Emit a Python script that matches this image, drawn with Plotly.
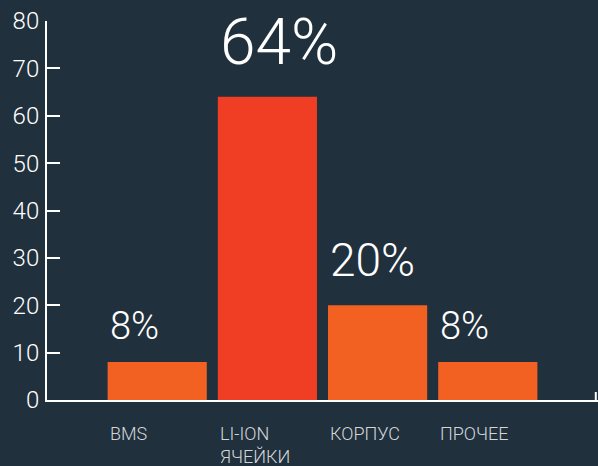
import plotly.graph_objects as go

categories = ["BMS", "LI-ION<br>ЯЧЕЙКИ", "КОРПУС", "ПРОЧЕЕ"]
values = [8, 64, 20, 8]
value_labels = ["8%", "64%", "20%", "8%"]
label_sizes = [38, 64, 46, 38]
label_shifts = [12, 15, 16, 12]
bar_colors = ["#f26122", "#ef3e23", "#f26122", "#f26122"]
y_ticks = [0, 10, 20, 30, 40, 50, 60, 70, 80]

BG = "#21303d"
FONT = "Roboto"
xs = list(range(len(categories)))

fig = go.Figure()
fig.add_trace(go.Bar(
    x=xs, y=values, width=0.9,
    marker=dict(color=bar_colors, line=dict(width=0)),
    hoverinfo="skip",
))

annotations = []
for i, (v, t, s, sh) in enumerate(zip(values, value_labels, label_sizes, label_shifts)):
    annotations.append(dict(
        x=i - 0.45, y=v, xref="x", yref="y", text=t, showarrow=False,
        xanchor="left", yanchor="bottom", yshift=sh,
        font=dict(family=FONT, size=s, color="#ffffff", weight=300),
    ))
    annotations.append(dict(
        x=i - 0.45, y=0, xref="x", yref="paper", text=categories[i], showarrow=False,
        xanchor="left", yanchor="top", yshift=-21, align="left",
        font=dict(family=FONT, size=18, color="#d3d7da", weight=300),
    ))

fig.update_layout(
    width=598, height=466,
    margin=dict(l=47, r=0, t=21, b=66),
    paper_bgcolor=BG, plot_bgcolor=BG,
    showlegend=False,
    annotations=annotations,
    font=dict(family=FONT, color="#ffffff", weight=300),
    shapes=[dict(type="line", xref="paper", yref="paper", ysizemode="pixel", yanchor=0,
                 x0=0.996, x1=0.996, y0=0, y1=8, line=dict(color="#ffffff", width=2))],
)
fig.update_xaxes(
    range=[-1, 4], showticklabels=False, ticks="", showgrid=False, zeroline=False,
    showline=True, linecolor="#ffffff", linewidth=2,
)
fig.update_yaxes(
    range=[0, 80], tickvals=y_ticks, ticks="inside", ticklen=13, tickwidth=2,
    tickcolor="#ffffff", showgrid=False, zeroline=False,
    showline=True, linecolor="#ffffff", linewidth=2,
    tickfont=dict(family=FONT, size=24, color="#ffffff", weight=300),
    ticklabelstandoff=1,
)

fig.write_html("out.html")
